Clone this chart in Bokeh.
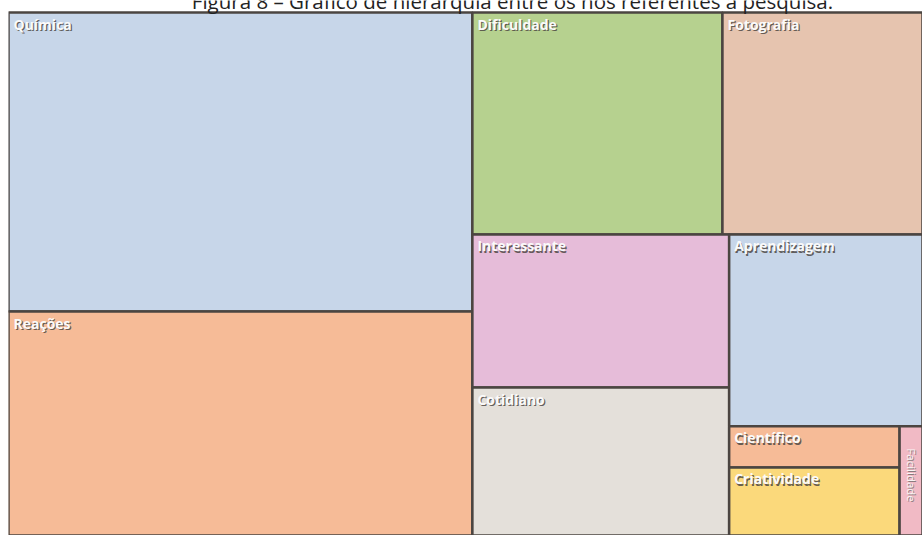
import math
from bokeh.plotting import figure
from bokeh.models import Range1d, ColumnDataSource, GlobalInlineStyleSheet
from bokeh.core.properties import value
from bokeh.embed import file_html
from bokeh.resources import INLINE

# ---- data (areas, arbitrary units) ----
categories = ["Química", "Reações", "Dificuldade", "Fotografia", "Interessante",
              "Cotidiano", "Aprendizagem", "Científico", "Criatividade", "Facilidade"]
values = [138.7, 103.9, 55.5, 44.4, 39.3, 38.0, 37.1, 7.0, 11.6, 2.5]
colors = ["#C7D6E9", "#F6BB97", "#B6D18F", "#E6C4AF", "#E6BCD9",
          "#E4E0DA", "#C7D6E9", "#F6BB97", "#FBD97B", "#F1BAC5"]
title_text = "Figura 8 – Gráfico de hierarquia entre os nós referentes à pesquisa."

val = dict(zip(categories, values))
# nested slicing structure of the treemap: "h" = side by side, "v" = stacked
tree = ("h", [("v", ["Química", "Reações"]),
              ("v", [("h", ["Dificuldade", "Fotografia"]),
                     ("h", [("v", ["Interessante", "Cotidiano"]),
                            ("v", ["Aprendizagem",
                                   ("h", [("v", ["Científico", "Criatividade"]), "Facilidade"])])])])])

def total(node):
    if isinstance(node, str):
        return val[node]
    return sum(total(c) for c in node[1])

rects = {}
def layout(node, x0, y0, x1, y1):
    if isinstance(node, str):
        rects[node] = (x0, y0, x1, y1)
        return
    orient, kids = node
    s = total(node)
    pos = x0 if orient == "h" else y0
    for k in kids:
        f = total(k) / s
        if orient == "h":
            w = (x1 - x0) * f
            layout(k, pos, y0, pos + w, y1)
            pos += w
        else:
            h = (y1 - y0) * f
            layout(k, x0, pos, x1, pos + h)
            pos += h

W, H = 914.0, 523.0
layout(tree, 0, 0, W, H)

src = ColumnDataSource(dict(
    left=[rects[c][0] for c in categories],
    top=[rects[c][1] for c in categories],
    right=[rects[c][2] for c in categories],
    bottom=[rects[c][3] for c in categories],
    color=colors, name=categories))

p = figure(width=914, height=535, output_backend="svg", toolbar_location=None,
           x_range=Range1d(0, W), y_range=Range1d(H, -12),
           min_border=0, min_border_left=0, min_border_right=0,
           min_border_top=0, min_border_bottom=0)
p.axis.visible = False
p.grid.visible = False
p.outline_line_color = None
p.background_fill_color = "white"
p.border_fill_color = "white"

p.quad(left="left", right="right", top="top", bottom="bottom", source=src,
       fill_color="color", line_color="#4B4541", line_width=2.5)

# labels
hor = [c for c in categories if c != "Facilidade"]
lx = [rects[c][0] + 5 for c in hor]
ly = [rects[c][1] + 2 for c in hor]
font = value("Open Sans")
p.text(x=[x + 1.2 for x in lx], y=[y + 1.4 for y in ly], text=hor, text_font=font,
       text_font_size="14px", text_font_style="bold", text_color="#4E4844",
       text_alpha=0.85, text_baseline="top")
p.text(x=lx, y=ly, text=hor, text_font=font, text_font_size="14px",
       text_font_style="bold", text_color="#FAFAFA", text_baseline="top")

fr = rects["Facilidade"]
fx = (fr[0] + fr[2]) / 2
fy = fr[1] + 22
p.text(x=[fx + 1], y=[fy + 1], text=["Facilidade"], text_font=font,
       text_font_size="11.5px", text_color="#8A7A7D", angle=-math.pi / 2,
       text_align="left", text_baseline="middle")
p.text(x=[fx], y=[fy], text=["Facilidade"], text_font=font,
       text_font_size="11.5px", text_color="#FAF4F5", angle=-math.pi / 2,
       text_align="left", text_baseline="middle")

# title (cut off at top, as in the reference)
p.text(x=[504], y=[-12], text=[title_text], text_font=value("Open Sans"),
       text_font_size="20.5px", text_color="#222222", text_align="center",
       text_baseline="alphabetic")

p.stylesheets = [GlobalInlineStyleSheet(css="body{margin:0 0 0 8px !important;}")]

open("out.html", "w").write(file_html(p, INLINE))
